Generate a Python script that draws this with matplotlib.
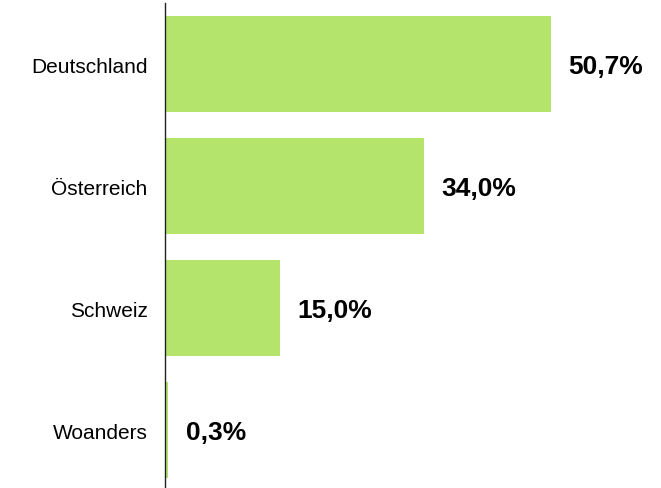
import matplotlib.pyplot as plt

countries = ['Deutschland', 'Österreich', 'Schweiz', 'Woanders']
shares = [50.7, 34.0, 15.0, 0.3]
value_labels = ['50,7%', '34,0%', '15,0%', '0,3%']

plt.rcParams['font.family'] = ['Liberation Sans', 'DejaVu Sans']

fig = plt.figure(figsize=(6.61, 4.89), dpi=100)
ax = fig.add_axes([165 / 661, 0, 496 / 661, 485 / 489])

pos = list(range(len(countries)))
ax.barh(pos, shares, height=0.787, color='#b4e46c', left=0.1)

for p, v, lab in zip(pos, shares, value_labels):
    ax.text(v + 2.4, p + 0.02, lab, va='center', ha='left',
            fontsize=19, fontweight='bold', color='black')

ax.set_yticks(pos)
ax.set_yticklabels(countries, fontsize=15)
ax.tick_params(axis='y', length=0, pad=12.5)
ax.set_xticks([])
ax.set_xlim(0, 65.3)
ax.set_ylim(3.475, -0.5)

for side in ['top', 'right', 'bottom']:
    ax.spines[side].set_visible(False)
ax.spines['left'].set_color('#222222')
ax.spines['left'].set_linewidth(1)

fig.savefig('out.png', dpi=100)
